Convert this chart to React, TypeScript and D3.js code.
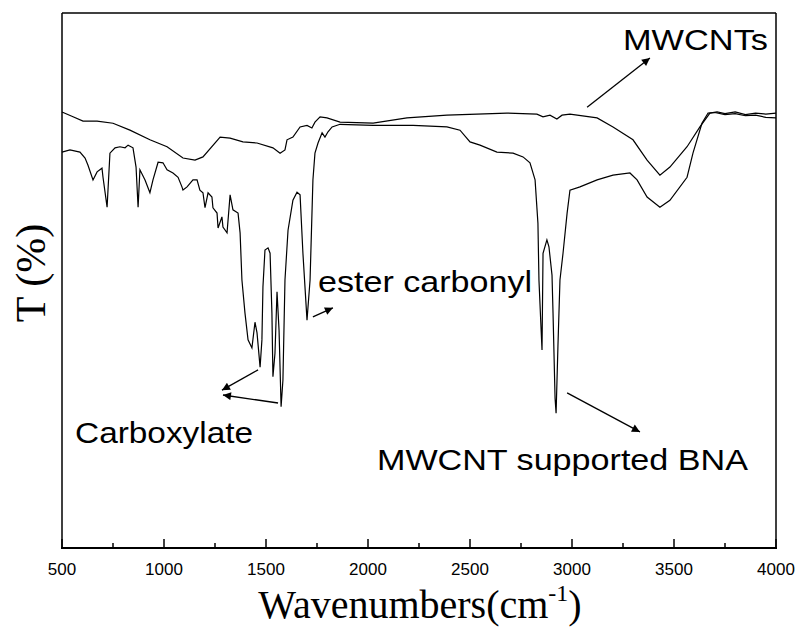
import React from "react";
import * as d3 from "d3";

// MWCNTs spectrum: [wavenumber cm-1, transmittance (arb. %)]
const mwcntWn = [500, 554, 603, 672, 750, 833, 931, 1015, 1093, 1152, 1191, 1275, 1324, 1387, 1456, 1534, 1569, 1593, 1603, 1632, 1667, 1701, 1725, 1740, 1765, 1799, 1863, 2025, 2191, 2387, 2681, 2828, 2858, 2892, 2926, 2951, 2990, 3123, 3201, 3299, 3368, 3431, 3480, 3564, 3627, 3676, 3711, 3750, 3800, 3850, 3900, 3950, 4000];
const mwcntT = [81.5, 80.6, 79.8, 79.8, 79.4, 78.1, 76.3, 75.0, 72.9, 72.5, 73.1, 76.8, 76.6, 75.9, 75.7, 74.8, 73.8, 74.4, 76.3, 76.8, 78.7, 79.0, 78.5, 79.6, 80.6, 80.4, 79.6, 79.4, 80.4, 80.9, 81.3, 81.1, 80.6, 80.9, 80.2, 80.9, 81.1, 80.4, 78.7, 76.3, 72.5, 69.7, 71.2, 75.0, 78.7, 81.3, 81.5, 81.2, 81.5, 81.0, 81.3, 81.1, 81.3];

// MWCNT supported BNA spectrum
const bnaWn = [500, 539, 588, 613, 627, 652, 672, 696, 701, 721, 735, 760, 784, 809, 824, 848, 863, 873, 882, 907, 931, 946, 971, 995, 1015, 1044, 1069, 1088, 1093, 1113, 1142, 1162, 1176, 1191, 1201, 1216, 1235, 1240, 1260, 1265, 1284, 1289, 1309, 1324, 1338, 1363, 1373, 1382, 1397, 1412, 1431, 1446, 1456, 1471, 1480, 1485, 1495, 1510, 1520, 1529, 1534, 1544, 1554, 1564, 1574, 1583, 1593, 1608, 1632, 1652, 1667, 1681, 1701, 1716, 1730, 1740, 1755, 1775, 1789, 1804, 1824, 1863, 2025, 2221, 2387, 2451, 2500, 2549, 2632, 2711, 2760, 2794, 2819, 2833, 2838, 2848, 2853, 2858, 2877, 2887, 2902, 2907, 2917, 2922, 2931, 2941, 2956, 2976, 2990, 3039, 3123, 3201, 3284, 3319, 3368, 3431, 3480, 3564, 3593, 3637, 3667, 3700, 3750, 3800, 3850, 3900, 3950, 4000];
const bnaT = [74.0, 74.4, 74.0, 72.9, 71.6, 68.8, 70.3, 71.0, 69.3, 63.7, 73.8, 74.8, 75.0, 74.8, 75.3, 74.8, 71.2, 63.7, 70.7, 68.8, 66.4, 68.8, 72.1, 72.0, 70.7, 70.1, 69.3, 67.5, 66.9, 67.5, 68.8, 68.8, 66.9, 66.4, 63.6, 66.4, 65.6, 63.6, 62.6, 59.8, 61.9, 60.0, 58.9, 66.0, 63.2, 62.6, 58.9, 50.1, 43.9, 38.9, 37.4, 42.2, 40.2, 33.8, 38.9, 48.8, 55.7, 56.1, 55.1, 43.9, 32.0, 36.4, 47.9, 40.7, 26.4, 31.4, 50.1, 59.4, 65.0, 66.5, 66.0, 55.1, 42.6, 50.1, 68.8, 73.8, 75.7, 77.6, 76.8, 77.8, 78.7, 79.2, 79.0, 79.0, 78.7, 78.1, 75.9, 75.3, 74.0, 73.8, 73.1, 72.0, 68.8, 60.7, 50.1, 41.3, 37.0, 55.1, 57.6, 56.3, 51.0, 43.9, 28.0, 25.2, 37.6, 50.1, 55.1, 62.6, 66.9, 67.5, 68.8, 69.7, 70.1, 68.8, 65.6, 63.7, 65.0, 69.3, 73.8, 79.4, 81.3, 81.4, 81.0, 81.2, 80.8, 80.9, 80.5, 80.4];

const xTicks = [500, 1000, 1500, 2000, 2500, 3000, 3500, 4000];
const xMinorTicks = [750, 1250, 1750, 2250, 2750, 3250, 3750];

// annotation labels: text, wavenumber, T, width in px
const labelText = ["MWCNTs", "ester carbonyl", "Carboxylate", "MWCNT supported BNA"];
const labelWn = [3250, 1755, 564, 2044];
const labelT = [93.1, 47.9, 19.6, 14.6];
const labelLen = [145, 214, 178, 371];

// arrows: from (wn,T) to (wn,T)
const arrowFromWn = [3074, 2976, 1461, 1559, 1730];
const arrowFromT = [82.4, 29.0, 33.3, 27.1, 43.2];
const arrowToWn = [3382, 3333, 1284, 1289, 1828];
const arrowToT = [91.6, 21.7, 29.5, 28.6, 44.9];

export default function App() {
  const left = 62, right = 776, top = 13, bottom = 548;
  const x = d3.scaleLinear().domain([500, 4000]).range([left, right]);
  const y = d3.scaleLinear().domain([0, 100]).range([bottom, top]);
  const line = d3.line<[number, number]>().x(d => x(d[0])).y(d => y(d[1]));
  const mw = mwcntWn.map((w, i) => [w, mwcntT[i]] as [number, number]);
  const bn = bnaWn.map((w, i) => [w, bnaT[i]] as [number, number]);
  const sans = "'Liberation Sans', Arial, sans-serif";
  const serif = "'Liberation Serif', 'Times New Roman', serif";

  return (
    <svg width={803} height={634} style={{ position: "absolute", left: 0, top: 0, background: "#fff" }}>
      <defs>
        <marker id="ah" viewBox="0 0 10 10" refX="10" refY="5" markerWidth="12" markerHeight="8" markerUnits="userSpaceOnUse" orient="auto">
          <path d="M0,0 L10,5 L0,10 z" fill="#000" />
        </marker>
      </defs>
      <rect x={0} y={0} width={803} height={634} fill="#fff" />
      <path d={line(mw) || ""} fill="none" stroke="#000" strokeWidth={1.2} />
      <path d={line(bn) || ""} fill="none" stroke="#000" strokeWidth={1.2} />
      {/* frame */}
      <line x1={left} y1={top} x2={right} y2={top} stroke="#000" strokeWidth={1.5} />
      <line x1={left} y1={top} x2={left} y2={bottom} stroke="#000" strokeWidth={1.5} />
      <line x1={right} y1={top} x2={right} y2={bottom} stroke="#000" strokeWidth={1.5} />
      <line x1={left - 1} y1={bottom} x2={right + 1} y2={bottom} stroke="#000" strokeWidth={2} />
      {xTicks.map(t => (
        <g key={t}>
          <line x1={x(t)} x2={x(t)} y1={bottom} y2={bottom - 9} stroke="#000" strokeWidth={1.5} />
          <text x={x(t)} y={575} textAnchor="middle" fontFamily={sans} fontSize={17}>{t}</text>
        </g>
      ))}
      {xMinorTicks.map(t => (
        <line key={t} x1={x(t)} x2={x(t)} y1={bottom} y2={bottom - 5} stroke="#000" strokeWidth={1.5} />
      ))}
      <text x={420} y={618} textAnchor="middle" fontFamily={serif} fontSize={40}>
        Wavenumbers(cm<tspan fontSize={24} dy={-17}>-1</tspan><tspan dy={17}>)</tspan>
      </text>
      <text transform="translate(45,273) rotate(-90)" textAnchor="middle" fontFamily={serif} fontSize={42}>T (%)</text>
      {labelText.map((s, i) => (
        <text key={s} x={x(labelWn[i])} y={y(labelT[i])} fontFamily={sans} fontSize={30}
          textLength={labelLen[i]} lengthAdjust="spacingAndGlyphs">{s}</text>
      ))}
      {arrowFromWn.map((w, i) => (
        <line key={i} x1={x(w)} y1={y(arrowFromT[i])} x2={x(arrowToWn[i])} y2={y(arrowToT[i])}
          stroke="#000" strokeWidth={1.3} markerEnd="url(#ah)" />
      ))}
    </svg>
  );
}
